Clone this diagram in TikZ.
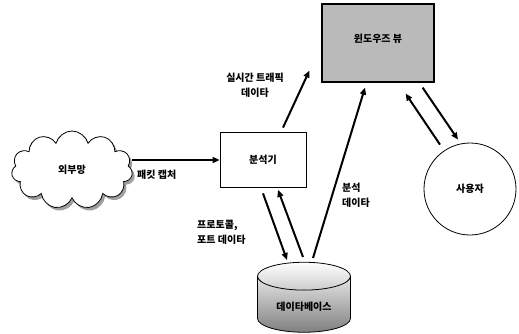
\documentclass[tikz,border=0pt]{standalone}
\usepackage{fontspec}
\setmainfont{Noto Sans CJK KR}
\usetikzlibrary{shapes.geometric, shapes.symbols, shadows, arrows.meta, positioning}

\begin{document}
\begin{tikzpicture}[
  x=1pt, y=-1pt,
  kbox/.style={draw, thick, minimum width=86pt, minimum height=55pt, font=\bfseries\fontsize{10}{15}\selectfont},
  arr/.style={-{Triangle[length=7pt,width=6pt]}, line width=2pt},
  lbl/.style={font=\bfseries\fontsize{10}{15}\selectfont, align=left, inner sep=0pt}
]
  \useasboundingbox (0,0) rectangle (519,333);

  \node[kbox, fill=black!27, line width=1.2pt, minimum width=112pt, minimum height=78pt, text depth=10pt] (win) at (378,43) {윈도우즈 뷰};
  \node[kbox] (ana) at (263,160) {분석기};
  \node[cloud, cloud puffs=11, draw, thick, fill=white, minimum width=121pt, minimum height=78pt,
        drop shadow={shadow xshift=2.5pt, shadow yshift=-3pt, fill=black!75},
        font=\bfseries\fontsize{10}{15}\selectfont] (net) at (72,170) {외부망};
  \node[cylinder, shape border rotate=90, aspect=0.45, draw, thick, minimum width=93pt, minimum height=70pt,
        top color=white, bottom color=black!50, font=\bfseries\fontsize{10}{15}\selectfont] (db) at (304,307) {데이타베이스};
  \node[circle, draw, thick, minimum size=92pt, font=\bfseries\fontsize{10}{15}\selectfont] (user) at (470,189) {사용자};

  % labels
  \node[lbl, align=center] (lrt) at (255,85) {실시간 트래픽\\데이타};
  \node[lbl, anchor=west] (lpk) at (137,175) {패킷 캡처};
  \node[lbl, anchor=west] (lpt) at (197,232) {프로토콜,\\포트 데이타};
  \node[lbl, anchor=west] (lan) at (342,195) {분석\\데이타};

  % arrows
  \draw[arr] (net.east |- ana.west) -- (ana.west);
  \draw[arr] ([xshift=20pt, yshift=4.5pt]ana.north) -- ([xshift=-12pt, yshift=12pt]win.south west);
  \draw[arr] ([yshift=-5.5pt]ana.south) -- ([xshift=-17pt, yshift=47pt]db.center);
  \draw[arr] ([xshift=-1pt, yshift=50pt]db.center) -- ([xshift=15pt, yshift=-2pt]ana.south);
  \draw[arr] ([xshift=9pt, yshift=49pt]db.center) -- ([xshift=-13pt, yshift=-5pt]win.south);
  \draw[arr] ([xshift=-30pt, yshift=-2pt]user.north) -- ([xshift=-29pt, yshift=-11pt]win.south east);
  \draw[arr] ([xshift=-12pt, yshift=-5pt]win.south east) -- ([xshift=-12pt, yshift=3pt]user.north);
\end{tikzpicture}
\end{document}
